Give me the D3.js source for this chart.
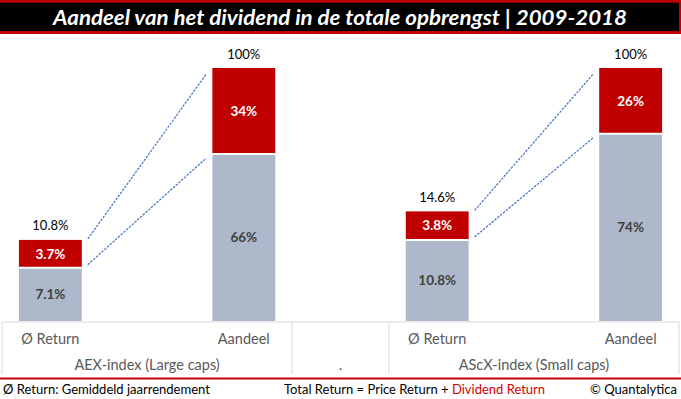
<!DOCTYPE html>
<html>
<head>
<meta charset="utf-8">
<script src="https://cdn.jsdelivr.net/npm/d3@7"></script>
<style>
  body { margin: 0; background: #fff; }
  svg { display: block; font-family: Lato, "Open Sans", sans-serif; }
</style>
</head>
<body>
<svg id="chart"></svg>
<script>
// data
var title = "Aandeel van het dividend in de totale opbrengst | 2009-2018";
var groupLabels = ["AEX-index (Large caps)", ".", "AScX-index (Small caps)"];
var groupSlots = [3, 1, 3];
var catLabels = ["Ø Return", "", "Aandeel", "", "Ø Return", "", "Aandeel"];
var returnSlots = [0, 4];   // slot of the Ø Return bars
var shareSlots = [2, 6];    // slot of the Aandeel bars
var priceReturn = [7.1, 10.8];
var dividendReturn = [3.7, 3.8];
var totalReturn = [10.8, 14.6];
var priceShare = [66, 74];
var dividendShare = [34, 26];

var W = 681, H = 399;
var grey = "#ADB9CA", red = "#C00000";

var svg = d3.select("#chart").attr("width", W).attr("height", H);

// title band
svg.append("rect").attr("x", 0).attr("y", 0).attr("width", W).attr("height", 34).attr("fill", red);
svg.append("rect").attr("x", 0).attr("y", 2.7).attr("width", 679).attr("height", 28.3).attr("fill", "#000");
svg.append("text")
    .attr("x", 340).attr("y", 24.5)
    .attr("text-anchor", "middle")
    .attr("fill", "#fff")
    .style("font-size", "20px").style("font-weight", "bold").style("font-style", "italic")
    .attr("textLength", 574).attr("lengthAdjust", "spacingAndGlyphs")
    .text(title);

// scales
var x = d3.scaleBand()
    .domain(d3.range(catLabels.length))
    .range([2, 679])
    .paddingInner(0.35)
    .paddingOuter(0.175);
var plotBottom = 321, plotTop = 68;
var yRet = d3.scaleLinear().domain([0, 33.7]).range([plotBottom, plotTop]);
var yShare = d3.scaleLinear().domain([0, 100]).range([plotBottom, plotTop]);
var bw = x.bandwidth();

function stack(slot, lower, upper, y, lowerTxt, upperTxt, totalTxt) {
  var x0 = x(slot);
  var yMid = y(lower), yTop = y(lower + upper);
  svg.append("rect").attr("x", x0).attr("y", yMid).attr("width", bw).attr("height", y(0) - yMid).attr("fill", grey);
  svg.append("rect").attr("x", x0).attr("y", yTop).attr("width", bw).attr("height", yMid - yTop).attr("fill", red);
  // white gap between the segments
  svg.append("line").attr("x1", x0).attr("x2", x0 + bw).attr("y1", yMid).attr("y2", yMid)
      .attr("stroke", "#fff").attr("stroke-width", 2);
  var cx = x0 + bw / 2;
  svg.append("text").attr("x", cx).attr("y", (y(0) + yMid) / 2).attr("dy", "0.35em")
      .attr("text-anchor", "middle").attr("fill", "#404040")
      .style("font-size", "13.5px").style("font-weight", "bold").text(lowerTxt);
  svg.append("text").attr("x", cx).attr("y", (yMid + yTop) / 2).attr("dy", "0.35em")
      .attr("text-anchor", "middle").attr("fill", "#fff")
      .style("font-size", "13.5px").style("font-weight", "bold").text(upperTxt);
  svg.append("text").attr("x", cx).attr("y", yTop - 14).attr("dy", "0.35em")
      .attr("text-anchor", "middle").attr("fill", "#000")
      .style("font-size", "13px").text(totalTxt);
}

var fmt1 = d3.format(".1f");
returnSlots.forEach(function(s, i) {
  stack(s, priceReturn[i], dividendReturn[i], yRet,
        fmt1(priceReturn[i]) + "%", fmt1(dividendReturn[i]) + "%", fmt1(totalReturn[i]) + "%");
});
shareSlots.forEach(function(s, i) {
  stack(s, priceShare[i], dividendShare[i], yShare,
        priceShare[i] + "%", dividendShare[i] + "%", (priceShare[i] + dividendShare[i]) + "%");
});

// dashed connector lines
returnSlots.forEach(function(s, i) {
  var xa = x(s) + bw + 6, xb = x(shareSlots[i]) - 6;
  svg.append("line")
      .attr("x1", xa).attr("y1", yRet(totalReturn[i]) - 1)
      .attr("x2", xb).attr("y2", yShare(100) + 6)
      .attr("stroke", "#4472C4").attr("stroke-width", 1.2).attr("stroke-dasharray", "2.5,1.2");
  svg.append("line")
      .attr("x1", xa).attr("y1", yRet(priceReturn[i]) - 3)
      .attr("x2", xb).attr("y2", yShare(priceShare[i]) + 4)
      .attr("stroke", "#4472C4").attr("stroke-width", 1.2).attr("stroke-dasharray", "2.5,1.2");
});

// category axis with two levels
var axisY = 322;
svg.append("line").attr("x1", 2).attr("x2", 679).attr("y1", axisY).attr("y2", axisY)
    .attr("stroke", "#D9D9D9").attr("stroke-width", 1);

var bounds = [0];
groupSlots.forEach(function(n, i) { bounds.push(bounds[i] + n); });
var step = x.step();
function edge(k) { return x.range()[0] + k * step; }

bounds.forEach(function(k) {
  svg.append("line").attr("x1", edge(k)).attr("x2", edge(k)).attr("y1", axisY).attr("y2", 374)
      .attr("stroke", "#D9D9D9").attr("stroke-width", 1);
});

svg.selectAll(".cat").data(catLabels).enter().append("text")
    .attr("class", "cat")
    .attr("x", function(d, i) { return x(i) + bw / 2; })
    .attr("y", 339).attr("dy", "0.35em")
    .attr("text-anchor", "middle").attr("fill", "#595959")
    .style("font-size", "14.5px")
    .text(function(d) { return d; });

svg.selectAll(".grp").data(groupLabels).enter().append("text")
    .attr("class", "grp")
    .attr("x", function(d, i) { return (edge(bounds[i]) + edge(bounds[i + 1])) / 2; })
    .attr("y", 365).attr("dy", "0.35em")
    .attr("text-anchor", "middle").attr("fill", "#595959")
    .style("font-size", "14.5px")
    .text(function(d) { return d; });

// footer
svg.append("line").attr("x1", 0).attr("x2", W).attr("y1", 378.5).attr("y2", 378.5)
    .attr("stroke", red).attr("stroke-width", 2);

var foot = svg.append("g").style("font-size", "13px").attr("fill", "#000");
foot.append("text").attr("x", 3).attr("y", 389).attr("dy", "0.35em").text("Ø Return: Gemiddeld jaarrendement");
var mid = foot.append("text").attr("x", 284).attr("y", 389).attr("dy", "0.35em");
mid.append("tspan").text("Total Return = Price Return + ");
mid.append("tspan").attr("fill", "#D40000").text("Dividend Return");
foot.append("text").attr("x", 677).attr("y", 389).attr("dy", "0.35em")
    .attr("text-anchor", "end").text("© Quantalytica");
</script>
</body>
</html>
